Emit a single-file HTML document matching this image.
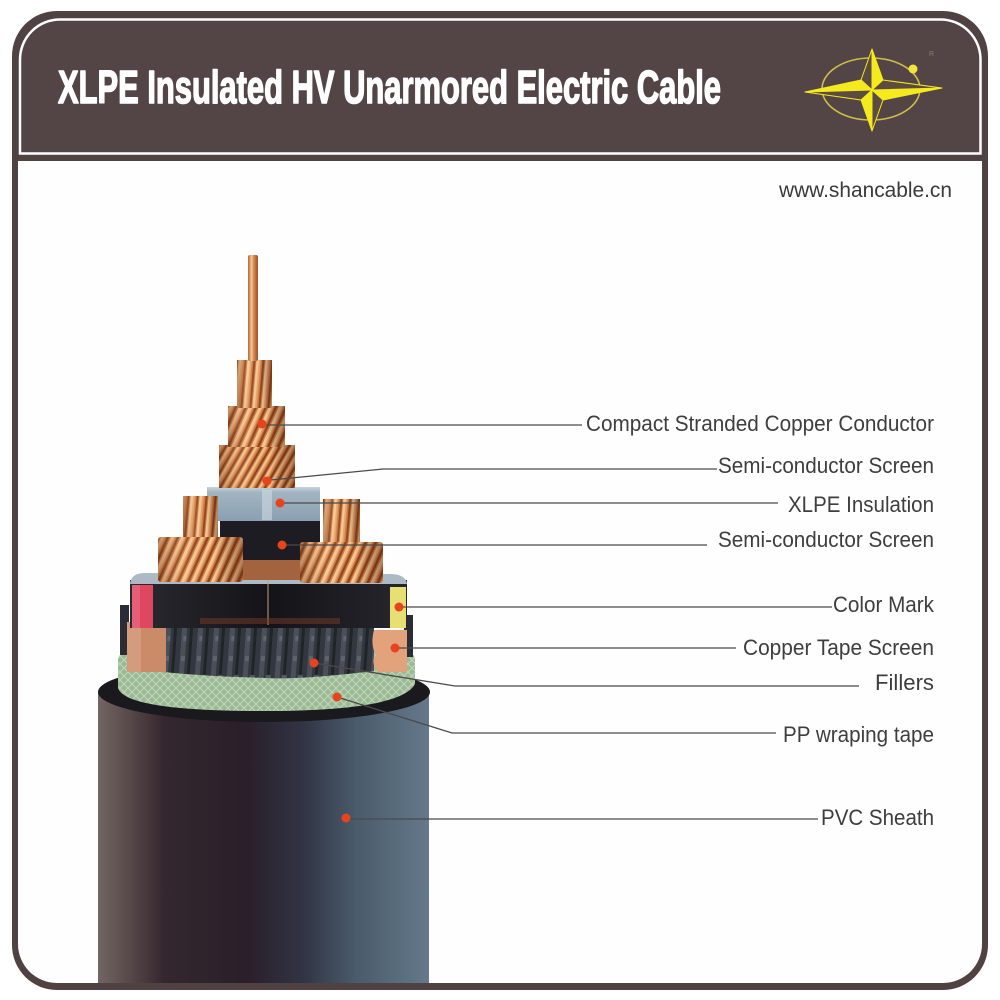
<!DOCTYPE html>
<html>
<head>
<meta charset="utf-8">
<style>
  html,body{margin:0;padding:0;background:#ffffff;}
  svg{display:block;}
</style>
</head>
<body>
<svg width="1000" height="1000" viewBox="0 0 1000 1000" xmlns="http://www.w3.org/2000/svg">
  <defs>
    <pattern id="cuD" width="10" height="200" patternUnits="userSpaceOnUse" patternTransform="skewX(-24)">
      <rect width="10" height="200" fill="#d07b42"/>
      <rect x="0" width="3" height="200" fill="#f8c894"/>
      <rect x="3" width="1.5" height="200" fill="#eaa66a"/>
      <rect x="6" width="2.4" height="200" fill="#8e4621"/>
    </pattern>
    <pattern id="cuD2" width="9" height="200" patternUnits="userSpaceOnUse" patternTransform="skewX(-30)">
      <rect width="9" height="200" fill="#cd773f"/>
      <rect x="0" width="2.6" height="200" fill="#f6c48e"/>
      <rect x="2.6" width="1.4" height="200" fill="#e69e62"/>
      <rect x="5.5" width="2.2" height="200" fill="#88421f"/>
    </pattern>
    <pattern id="cuV" width="9" height="200" patternUnits="userSpaceOnUse" patternTransform="skewX(-5)">
      <rect width="9" height="200" fill="#d27e45"/>
      <rect x="0" width="2.8" height="200" fill="#f8ca96"/>
      <rect x="2.8" width="1.5" height="200" fill="#e9a86e"/>
      <rect x="6" width="2" height="200" fill="#944b24"/>
    </pattern>
    <linearGradient id="sh" x1="0" y1="0" x2="1" y2="0">
      <stop offset="0" stop-color="#501c08" stop-opacity="0.35"/>
      <stop offset="0.35" stop-color="#ffe0b8" stop-opacity="0.1"/>
      <stop offset="0.65" stop-color="#000" stop-opacity="0"/>
      <stop offset="1" stop-color="#501c08" stop-opacity="0.4"/>
    </linearGradient>
    <linearGradient id="wire" x1="0" y1="0" x2="1" y2="0">
      <stop offset="0" stop-color="#b0643a"/>
      <stop offset="0.35" stop-color="#f6c894"/>
      <stop offset="0.6" stop-color="#d48650"/>
      <stop offset="1" stop-color="#96502a"/>
    </linearGradient>
    <linearGradient id="sheath" x1="0" y1="0" x2="1" y2="0">
      <stop offset="0" stop-color="#716664"/>
      <stop offset="0.08" stop-color="#5c4d4d"/>
      <stop offset="0.2" stop-color="#34272e"/>
      <stop offset="0.45" stop-color="#2a1f2a"/>
      <stop offset="0.62" stop-color="#313445"/>
      <stop offset="0.78" stop-color="#4a5b6b"/>
      <stop offset="1" stop-color="#64798a"/>
    </linearGradient>
    <linearGradient id="blk" x1="0" y1="0" x2="1" y2="0">
      <stop offset="0" stop-color="#2b2a30"/>
      <stop offset="0.5" stop-color="#141318"/>
      <stop offset="1" stop-color="#26262c"/>
    </linearGradient>
    <linearGradient id="xlpe" x1="0" y1="0" x2="0" y2="1">
      <stop offset="0" stop-color="#c8d4dd"/>
      <stop offset="0.15" stop-color="#a2b5c3"/>
      <stop offset="1" stop-color="#8aa0b0"/>
    </linearGradient>
    <pattern id="mesh" width="8" height="8" patternUnits="userSpaceOnUse">
      <rect width="8" height="8" fill="#96b48f"/>
      <path d="M0,0 L8,8 M8,0 L0,8" stroke="#c4d9bc" stroke-width="1.2"/>
    </pattern>
    <pattern id="fill" width="16" height="54" patternUnits="userSpaceOnUse" patternTransform="skewX(-4)">
      <rect width="16" height="54" fill="#33373f"/>
      <rect x="2" width="5" height="54" fill="#4a4f59"/>
      <rect x="10" width="3" height="54" fill="#202328"/>
      <rect x="3" y="8" width="4" height="5" fill="#5e646e"/>
      <rect x="9" y="27" width="5" height="4" fill="#565c66"/>
      <rect x="4" y="42" width="3" height="5" fill="#5f656f"/>
    </pattern>
  </defs>

  <!-- Frame -->
  <rect x="12" y="11" width="976" height="979" rx="45" ry="45" fill="#504142"/>
  <path d="M20,153.5 L20,60 A40,40 0 0 1 60,19.5 L940,19.5 A40,40 0 0 1 980.5,60 L980.5,153.5 Z" fill="#534445" stroke="#ffffff" stroke-width="2.5"/>
  <path d="M18,161 L982,161 L982,944 A39,39 0 0 1 943,983 L57,983 A39,39 0 0 1 18,944 Z" fill="#fefefe"/>

  <!-- Title -->
  <text x="58" y="103" font-family="'Liberation Sans Narrow','Liberation Sans',sans-serif" font-weight="bold" font-size="46" fill="#ffffff" stroke="#ffffff" stroke-width="1.6" stroke-linejoin="round" textLength="663" lengthAdjust="spacingAndGlyphs">XLPE Insulated HV Unarmored Electric Cable</text>

  <!-- Logo -->
  <ellipse cx="871" cy="89" rx="49" ry="31" fill="none" stroke="#cdbd4a" stroke-width="1.6"/>
  <circle cx="913" cy="69" r="4.5" fill="#f2e43a"/>
  <text x="929" y="56" font-family="'Liberation Sans',sans-serif" font-size="7" fill="#8d7e74">R</text>
  <g stroke="#f5ea1e" stroke-width="1" stroke-linejoin="round">
    <polygon points="872,49 883,80 872,90" fill="#f5ea1e"/>
    <polygon points="872,49 861,80 872,90" fill="#5c4b40"/>
    <polygon points="942,88 883,100 872,90" fill="#f5ea1e"/>
    <polygon points="942,88 883,80 872,90" fill="#5c4b40"/>
    <polygon points="872,131 861,100 872,90" fill="#f5ea1e"/>
    <polygon points="872,131 883,100 872,90" fill="#5c4b40"/>
    <polygon points="805,92 861,80 872,90" fill="#f5ea1e"/>
    <polygon points="805,92 861,100 872,90" fill="#5c4b40"/>
  </g>

  <!-- URL -->
  <text x="779" y="197" font-family="'Liberation Sans Narrow','Liberation Sans',sans-serif" font-size="21" fill="#3a3a3a" textLength="173" lengthAdjust="spacingAndGlyphs">www.shancable.cn</text>

  <!-- Cable sheath -->
  <rect x="98" y="692" width="331" height="291" fill="url(#sheath)"/>
  <ellipse cx="264" cy="692" rx="166" ry="30" fill="#1a191d"/>

  <!-- PP wrapping tape (green) -->
  <path d="M118,660 Q118,650 140,649 L395,649 Q415,650 415,660 L415,684 Q400,712 252,711 Q125,710 118,688 Z" fill="url(#mesh)"/>
  <path d="M118,660 Q118,650 140,649 L395,649 Q415,650 415,660 L415,684 Q400,712 252,711 Q125,710 118,688 Z" fill="#a9c7a2" fill-opacity="0.25"/>

  <!-- dark side strips -->
  <rect x="120" y="605" width="9" height="50" fill="#2a2d35"/>
  <rect x="404" y="615" width="9" height="42" fill="#2a2d35"/>

  <!-- Fillers -->
  <path d="M164,623 L374,623 L374,671 Q300,680 265,678 Q200,676 164,672 Z" fill="url(#fill)"/>

  <!-- Copper tapes -->
  <rect x="127" y="622" width="39" height="50" fill="#c98b68"/>
  <rect x="127" y="622" width="14" height="50" fill="#d9a484" opacity="0.7"/>
  <path d="M374,630 L407,630 L407,672 L378,672 Q370,662 376,655 Q370,645 374,630 Z" fill="#e1a27c"/>

  <!-- Core insulation layer -->
  <rect x="130" y="580" width="277" height="48" fill="url(#blk)"/>
  <path d="M130,584 Q131,573 145,573 L392,574 Q406,575 407,584 Z" fill="#acbac6"/>
  <rect x="132" y="585" width="21" height="43" fill="#e0465f"/>
  <rect x="132" y="585" width="8" height="43" fill="#ea6a80" opacity="0.7"/>
  <rect x="390" y="587" width="16" height="41" fill="#e6df72"/>
  <line x1="268" y1="578" x2="268" y2="625" stroke="#c9a27a" stroke-width="1"/>
  <rect x="200" y="618" width="140" height="6" fill="#7a3a2a" opacity="0.5"/>

  <!-- Center core stack -->
  <rect x="220" y="520" width="100" height="43" fill="#1d1c22"/>
  <rect x="243" y="560" width="57" height="20" fill="#a4633f"/>
  <rect x="207" y="487" width="113" height="34" fill="url(#xlpe)"/>
  <rect x="262" y="490" width="10" height="30" fill="#cfdae2" opacity="0.6"/>

  <rect x="219" y="445" width="76" height="43" fill="url(#cuD2)"/>
  <rect x="219" y="445" width="76" height="43" fill="url(#sh)"/>
  <rect x="228" y="406" width="57" height="41" fill="url(#cuD)"/>
  <rect x="228" y="406" width="57" height="41" fill="url(#sh)"/>
  <rect x="237" y="360" width="35" height="48" fill="url(#cuV)"/>
  <rect x="237" y="360" width="35" height="48" fill="url(#sh)"/>
  <rect x="248" y="255" width="10" height="106" rx="2" fill="url(#wire)"/>

  <!-- Side conductors -->
  <rect x="183" y="496" width="35" height="44" fill="url(#cuV)"/>
  <rect x="183" y="496" width="35" height="44" fill="url(#sh)"/>
  <rect x="158" y="537" width="85" height="45" rx="3" fill="url(#cuD)"/>
  <rect x="158" y="537" width="85" height="45" rx="3" fill="url(#sh)"/>
  <rect x="323" y="499" width="37" height="44" fill="url(#cuV)"/>
  <rect x="323" y="499" width="37" height="44" fill="url(#sh)"/>
  <rect x="300" y="542" width="83" height="41" rx="3" fill="url(#cuD)"/>
  <rect x="300" y="542" width="83" height="41" rx="3" fill="url(#sh)"/>

  <!-- Leader lines -->
  <g stroke="#4a4a4a" stroke-width="1.3" fill="none">
    <polyline points="266,425 582,425"/>
    <polyline points="271,480 383,469 717,469"/>
    <polyline points="284,503 778,503"/>
    <polyline points="286,545 707,545"/>
    <polyline points="403,607 832,607"/>
    <polyline points="399,648 736,648"/>
    <polyline points="314,663 455,686 859,686"/>
    <polyline points="337,697 452,733 776,733"/>
    <polyline points="350,819 818,819"/>
  </g>

  <!-- Red dots -->
  <g fill="#e8431c">
    <circle cx="262" cy="424" r="4.5"/>
    <circle cx="267" cy="481" r="4.5"/>
    <circle cx="280" cy="503" r="4.5"/>
    <circle cx="282" cy="545" r="4.5"/>
    <circle cx="399" cy="607" r="4.5"/>
    <circle cx="395" cy="648" r="4.5"/>
    <circle cx="314" cy="663" r="4.5"/>
    <circle cx="337" cy="697" r="4.5"/>
    <circle cx="346" cy="818" r="4.5"/>
  </g>

  <!-- Labels -->
  <g font-family="'Liberation Sans Narrow','Liberation Sans',sans-serif" font-size="22" fill="#3e3e3e">
    <text x="586" y="431" textLength="348" lengthAdjust="spacingAndGlyphs">Compact Stranded Copper Conductor</text>
    <text x="718" y="473" textLength="216" lengthAdjust="spacingAndGlyphs">Semi-conductor Screen</text>
    <text x="788" y="512" textLength="146" lengthAdjust="spacingAndGlyphs">XLPE Insulation</text>
    <text x="718" y="547" textLength="216" lengthAdjust="spacingAndGlyphs">Semi-conductor Screen</text>
    <text x="833" y="612" textLength="101" lengthAdjust="spacingAndGlyphs">Color Mark</text>
    <text x="743" y="655" textLength="191" lengthAdjust="spacingAndGlyphs">Copper Tape Screen</text>
    <text x="875" y="690" textLength="59" lengthAdjust="spacingAndGlyphs">Fillers</text>
    <text x="783" y="742" textLength="151" lengthAdjust="spacingAndGlyphs">PP wraping tape</text>
    <text x="821" y="825" textLength="113" lengthAdjust="spacingAndGlyphs">PVC Sheath</text>
  </g>
</svg>
</body>
</html>
